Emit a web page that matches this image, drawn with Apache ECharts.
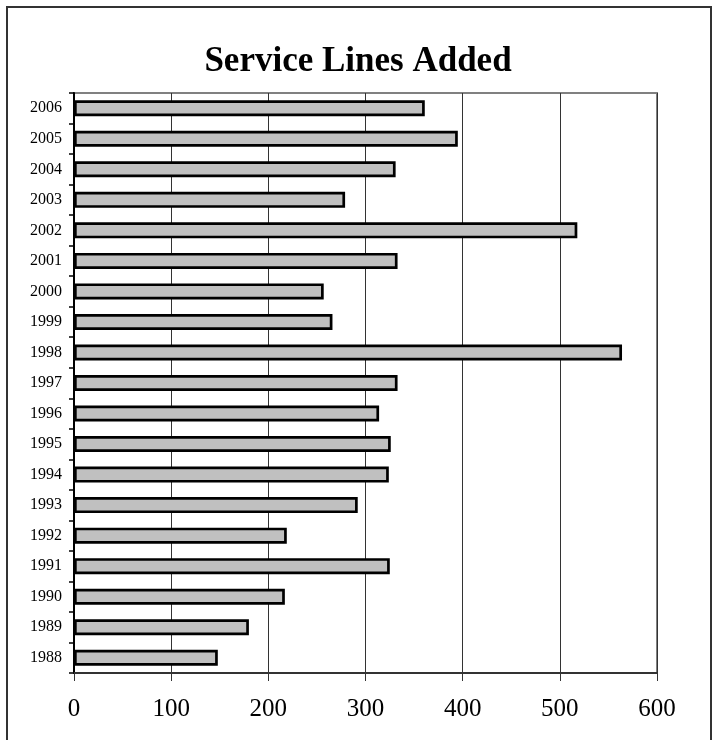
<!DOCTYPE html>
<html>
<head>
<meta charset="utf-8">
<script src="https://cdn.jsdelivr.net/npm/echarts@6/dist/echarts.min.js"></script>
<style>html,body{margin:0;padding:0;background:#fff}#c{width:715px;height:740px}</style>
</head>
<body>
<div id="c"></div>
<script>
var titleText = 'Service Lines Added';
var years = ['1988','1989','1990','1991','1992','1993','1994','1995','1996','1997','1998','1999','2000','2001','2002','2003','2004','2005','2006'];
var linesAdded = [148,180,217,325,219,292,324,326,314,333,564,266,257,333,518,279,331,395,361];
var xTicks = [0,100,200,300,400,500,600];

var chart = echarts.init(document.getElementById('c'), null, {renderer:'canvas'});
chart.setOption({
  backgroundColor:'#fff',
  animation:false,
  graphic:[
    {type:'rect',shape:{x:7,y:7,width:704,height:800},
      style:{fill:'none',stroke:'#333',lineWidth:2},z:100},
    {type:'text',x:358,y:62,z:100,
      style:{text:titleText,x:0,y:0,align:'center',verticalAlign:'middle',
        font:'bold 35px "Liberation Serif"',fill:'#000'}}
  ],
  grid:{left:74,right:58,top:93,bottom:67,show:true,borderColor:'#808080',borderWidth:2,backgroundColor:'transparent'},
  xAxis:{type:'value',min:xTicks[0],max:xTicks[xTicks.length-1],interval:100,
    axisLine:{show:true,lineStyle:{color:'#333',width:2}},
    axisTick:{show:true,length:8,lineStyle:{color:'#333',width:1}},
    axisLabel:{fontFamily:'Liberation Serif',fontSize:25,color:'#000',margin:24},
    splitLine:{show:true,lineStyle:{color:'#333',width:1}}},
  yAxis:{type:'category',data:years,
    axisLine:{show:true,lineStyle:{color:'#000',width:2}},
    axisTick:{show:true,length:5,lineStyle:{color:'#000',width:1.5}},
    axisLabel:{fontFamily:'Liberation Serif',fontSize:16,color:'#000',margin:12}},
  series:[{type:'bar',data:linesAdded,barWidth:16,
    itemStyle:{color:'#c0c0c0',borderColor:'#000',borderWidth:2.7}}]
});
</script>
</body>
</html>
